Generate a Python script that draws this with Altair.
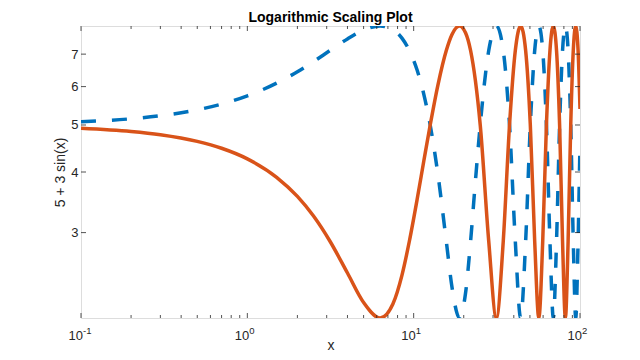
import altair as alt
import pandas as pd

x_vals = [0.1, 0.2, 0.3, 0.5, 0.7, 1.0, 1.5, 2.0, 2.5, 3.14, 4.0, 5.0, 6.28,
          7.5, 8.5, 9.42, 10.5, 11.5, 12.57, 14.0, 15.71, 17.0, 18.85, 20.5,
          21.99, 23.5, 25.13, 28.27, 31.42, 34.56, 37.70, 40.84, 43.98, 47.12,
          50.27, 53.41, 56.55, 59.69, 62.83, 65.97, 69.12, 72.26, 75.40, 78.54,
          81.68, 84.82, 87.96, 91.11, 94.25, 97.39, 100.0]
dashed_y = [5.075, 5.15, 5.225, 5.374, 5.522, 5.742, 6.099, 6.438, 6.755, 7.121, 7.524, 7.847, 8.0,
            7.862, 7.551, 7.121, 6.482, 5.791, 5.0, 3.948, 2.879, 2.315, 2.0, 2.249,
            2.879, 3.825, 5.0, 7.121, 8.0, 7.121, 5.0, 2.879, 2.0, 2.879,
            5.0, 7.121, 8.0, 7.121, 5.0, 2.879, 2.0, 2.879, 5.0, 7.121,
            8.0, 7.121, 5.0, 2.879, 2.0, 2.879, 4.603]
solid_y = [4.925, 4.85, 4.775, 4.626, 4.478, 4.258, 3.901, 3.562, 3.245, 2.879, 2.476, 2.153, 2.0,
           2.138, 2.449, 2.879, 3.518, 4.209, 5.0, 6.052, 7.121, 7.685, 8.0, 7.751,
           7.121, 6.175, 5.0, 2.879, 2.0, 2.879, 5.0, 7.121, 8.0, 7.121,
           5.0, 2.879, 2.0, 2.879, 5.0, 7.121, 8.0, 7.121, 5.0, 2.879,
           2.0, 2.879, 5.0, 7.121, 8.0, 7.121, 5.397]

x_major = [0.1, 1, 10, 100]
x_exp = ["-1", "0", "1", "2"]
x_minor = [0.2, 0.3, 0.4, 0.5, 0.6, 0.7, 0.8, 0.9, 2, 3, 4, 5, 6, 7, 8, 9,
           20, 30, 40, 50, 60, 70, 80, 90]
y_ticks = [3, 4, 5, 6, 7]

W, H = 499, 292
FONT = "Liberation Sans"
TXT = "#262626"

df = pd.DataFrame({"x": x_vals, "dashed": dashed_y, "solid": solid_y})
xs = alt.Scale(type="log", domain=[0.1, 100], nice=False)
ys = alt.Scale(type="log", domain=[2, 8], nice=False)

xax = alt.Axis(labels=False, ticks=False, domain=False, grid=False, title="x",
               titleFont=FONT, titleFontSize=14, titleFontWeight="normal",
               titleColor=TXT, titlePadding=20)
yax = alt.Axis(values=y_ticks, format="d", ticks=False, domain=False, grid=False,
               labelFont=FONT, labelFontSize=13, labelColor=TXT, labelPadding=3,
               title="5 + 3 sin(x)", titleFont=FONT, titleFontSize=14,
               titleFontWeight="normal", titleColor=TXT, titlePadding=3)

base = alt.Chart(df)
dashed = base.mark_line(color="#0072BD", strokeWidth=3.5, strokeDash=[15, 16],
                        interpolate="monotone", clip=True).encode(
    x=alt.X("x:Q", scale=xs, axis=xax),
    y=alt.Y("dashed:Q", scale=ys, axis=yax),
)
solid = base.mark_line(color="#D95319", strokeWidth=3.5,
                       interpolate="monotone", clip=True).encode(
    x=alt.X("x:Q", scale=xs),
    y=alt.Y("solid:Q", scale=ys),
)

maj = pd.DataFrame({"v": x_major, "e": x_exp})
mnr = pd.DataFrame({"v": x_minor})
yt = pd.DataFrame({"v": y_ticks})

def xticks(d, length):
    bot = alt.Chart(d).mark_rule(color=TXT, strokeWidth=0.8).encode(
        x=alt.X("v:Q", scale=xs), y=alt.value(H), y2=alt.value(H - length))
    top = alt.Chart(d).mark_rule(color=TXT, strokeWidth=0.8).encode(
        x=alt.X("v:Q", scale=xs), y=alt.value(0), y2=alt.value(length))
    return bot + top

ytl = alt.Chart(yt).mark_rule(color=TXT, strokeWidth=0.8).encode(
    y=alt.Y("v:Q", scale=ys), x=alt.value(0), x2=alt.value(5))
ytr = alt.Chart(yt).mark_rule(color=TXT, strokeWidth=0.8).encode(
    y=alt.Y("v:Q", scale=ys), x=alt.value(W), x2=alt.value(W - 5))

lab10 = alt.Chart(maj).mark_text(font=FONT, fontSize=13, color=TXT, align="right",
                                 baseline="alphabetic", dx=2).encode(
    x=alt.X("v:Q", scale=xs), y=alt.value(H + 22), text=alt.value("10"))
labexp = alt.Chart(maj).mark_text(font=FONT, fontSize=9.5, color=TXT, align="left",
                                  baseline="alphabetic", dx=2).encode(
    x=alt.X("v:Q", scale=xs), y=alt.value(H + 16), text="e:N")

chart = alt.layer(
    dashed, solid, xticks(maj, 5), xticks(mnr, 3), ytl, ytr, lab10, labexp
).properties(
    width=W, height=H,
    title=alt.TitleParams("Logarithmic Scaling Plot", font=FONT, fontSize=14,
                          fontWeight="bold", color="#000000", offset=1),
    autosize=alt.AutoSizeParams(type="none"),
    padding={"left": 73, "top": 18, "right": 52, "bottom": 34},
).configure_view(stroke=TXT, strokeWidth=1).configure(background="white")

chart.save("out.html", embed_options={"renderer": "svg", "actions": False})
